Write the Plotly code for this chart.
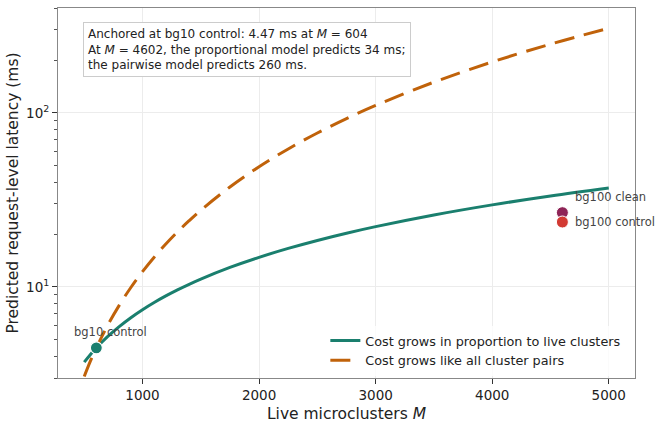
import math
import plotly.graph_objects as go

# Model curves
m_vals = [500, 550, 604, 700, 800, 900, 1000, 1100, 1200, 1300, 1400, 1500,
          1750, 2000, 2250, 2500, 2750, 3000, 3500, 4000, 4500, 5000]
proportional_ms = [3.70, 4.07, 4.47, 5.18, 5.92, 6.66, 7.40, 8.14, 8.88, 9.62, 10.36, 11.10,
                   12.95, 14.80, 16.65, 18.50, 20.35, 22.20, 25.90, 29.60, 33.30, 37.00]
pairwise_ms = [3.06, 3.71, 4.47, 6.00, 7.84, 9.93, 12.25, 14.83, 17.64, 20.71, 24.02, 27.57,
               37.52, 49.01, 62.03, 76.58, 92.66, 110.3, 150.1, 196.0, 248.1, 306.3]

# Observed points
anchor_label = "bg10 control"
anchor_m = 604
anchor_ms = 4.47
bg100_labels = ["bg100 clean", "bg100 control"]
bg100_m = [4602, 4602]
bg100_ms = [26.7, 23.6]

series_names = ["Cost grows in proportion to live clusters", "Cost grows like all cluster pairs"]

TEAL = "#1a7f6e"
ORANGE = "#c0620a"
FONT = "DejaVu Sans"

fig = go.Figure()
fig.add_trace(go.Scatter(x=m_vals, y=proportional_ms, mode="lines", name=series_names[0],
                         line=dict(color=TEAL, width=3, shape="spline", smoothing=1.0)))
fig.add_trace(go.Scatter(x=m_vals, y=pairwise_ms, mode="lines", name=series_names[1],
                         line=dict(color=ORANGE, width=3, dash="20px,10px", shape="spline", smoothing=1.0)))
fig.add_trace(go.Scatter(x=[anchor_m], y=[anchor_ms], mode="markers", showlegend=False,
                         marker=dict(color=TEAL, size=12, line=dict(color="white", width=1.2))))
fig.add_trace(go.Scatter(x=bg100_m, y=bg100_ms, mode="markers", showlegend=False,
                         marker=dict(color=["#8e2457", "#d23a33"], size=12,
                                     line=dict(color="white", width=1))))

lab_font = dict(size=11.5, color="#444", family=FONT)
annotations = [
    dict(x=anchor_m, y=math.log10(anchor_ms), xref="x", yref="y", text=anchor_label, showarrow=False,
         xshift=14, yshift=16, xanchor="center", yanchor="middle", font=lab_font),
    dict(x=bg100_m[0], y=math.log10(bg100_ms[0]), xref="x", yref="y", text=bg100_labels[0], showarrow=False,
         xshift=11, yshift=16, xanchor="left", yanchor="middle", font=lab_font),
    dict(x=bg100_m[1], y=math.log10(bg100_ms[1]), xref="x", yref="y", text=bg100_labels[1], showarrow=False,
         xshift=11, yshift=0, xanchor="left", yanchor="middle", font=lab_font),
    dict(x=0.043, y=0.962, xref="paper", yref="paper", xanchor="left", yanchor="top", align="left",
         showarrow=False, bgcolor="white", bordercolor="#cccccc", borderwidth=1, borderpad=4,
         text="Anchored at bg10 control: 4.47 ms at <i>M</i> = 604<br>"
              "At <i>M</i> = 4602, the proportional model predicts 34 ms;<br>"
              "the pairwise model predicts 260 ms.",
         font=dict(size=12, color="#222", family=FONT)),
]

fig.update_layout(
    width=661, height=426,
    margin=dict(l=58, r=26, t=7, b=47),
    paper_bgcolor="white", plot_bgcolor="white",
    font=dict(family=FONT, color="#222"),
    annotations=annotations,
    legend=dict(x=0.985, y=0.006, xanchor="right", yanchor="bottom", bgcolor="rgba(255,255,255,0.8)",
                font=dict(size=12.8, family=FONT, color="#222"), tracegroupgap=0),
)
fig.update_xaxes(range=[275, 5225], tickvals=[1000, 2000, 3000, 4000, 5000],
                 ticks="outside", ticklen=5, tickcolor="#333", tickfont=dict(size=13.5),
                 showgrid=True, gridcolor="#ececec", gridwidth=1, zeroline=False,
                 showline=True, linecolor="#888", linewidth=1, mirror=True,
                 title=dict(text="Live microclusters <i>M</i>", font=dict(size=15.5), standoff=5))
fig.update_yaxes(type="log", range=[0.4771, 2.6021], tickvals=[10, 100],
                 ticktext=["10<sup>1</sup>", "10<sup>2</sup>"],
                 ticks="outside", ticklen=5, tickcolor="#333", tickfont=dict(size=13.5),
                 showgrid=True, gridcolor="#ececec", gridwidth=1, zeroline=False,
                 showline=True, linecolor="#888", linewidth=1, mirror=True,
                 minor=dict(tickvals=[3, 4, 5, 6, 7, 8, 9, 20, 30, 40, 50, 60, 70, 80, 90, 200, 300, 400],
                            ticks="outside", ticklen=3, tickcolor="#555", showgrid=False),
                 title=dict(text="Predicted request-level latency (ms)", font=dict(size=15.5), standoff=3))

fig.write_html("out.html")
